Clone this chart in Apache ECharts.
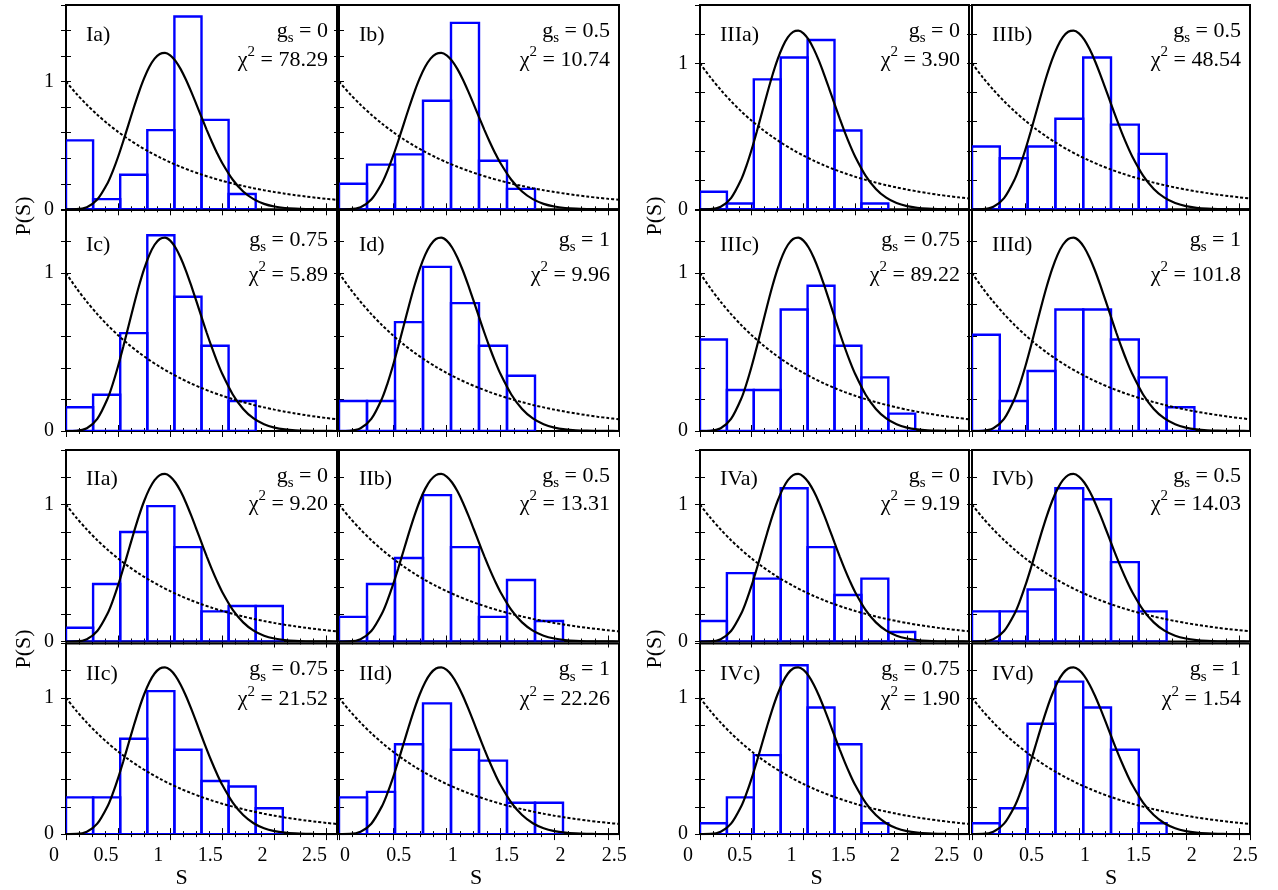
<!DOCTYPE html>
<html>
<head>
<meta charset="utf-8">
<title>Nearest-neighbour spacing distributions P(S)</title>
<script src="https://cdn.jsdelivr.net/npm/echarts@6/dist/echarts.min.js"></script>
<style>
  html, body { margin: 0; padding: 0; background: #ffffff; }
  #chart { width: 1278px; height: 890px; }
</style>
</head>
<body>
<div id="chart"></div>
<script>
// ---- data -------------------------------------------------------------
// Histogram bin width in units of the mean spacing S
const binWidth = 0.26;

// Panel labels, coupling values g_s and chi-square of each fit
const panelLabels = ['Ia)', 'Ib)', 'Ic)', 'Id)', 'IIa)', 'IIb)', 'IIc)', 'IId)',
                     'IIIa)', 'IIIb)', 'IIIc)', 'IIId)', 'IVa)', 'IVb)', 'IVc)', 'IVd)'];
const gsValues = ['0', '0.5', '0.75', '1', '0', '0.5', '0.75', '1',
                  '0', '0.5', '0.75', '1', '0', '0.5', '0.75', '1'];
const chiSquared = ['78.29', '10.74', '5.89', '9.96', '9.20', '13.31', '21.52', '22.26',
                    '3.90', '48.54', '89.22', '101.8', '9.19', '14.03', '1.90', '1.54'];

// Histogram heights P(S), one value per bin starting at S = 0
const histIa   = [0.54, 0.08, 0.27, 0.62, 1.51, 0.70, 0.12];
const histIb   = [0.20, 0.35, 0.43, 0.85, 1.46, 0.38, 0.16];
const histIc   = [0.15, 0.23, 0.62, 1.24, 0.85, 0.54, 0.19];
const histId   = [0.19, 0.19, 0.69, 1.04, 0.81, 0.54, 0.35];
const histIIa  = [0.10, 0.42, 0.80, 0.99, 0.69, 0.22, 0.26, 0.26];
const histIIb  = [0.18, 0.42, 0.61, 1.07, 0.69, 0.18, 0.45, 0.15];
const histIIc  = [0.27, 0.27, 0.70, 1.05, 0.62, 0.39, 0.35, 0.19];
const histIId  = [0.27, 0.31, 0.66, 0.96, 0.62, 0.54, 0.23, 0.23];
const histIIIa = [0.12, 0.04, 0.89, 1.04, 1.16, 0.54, 0.04];
const histIIIb = [0.43, 0.35, 0.43, 0.62, 1.04, 0.58, 0.38];
const histIIIc = [0.58, 0.26, 0.26, 0.77, 0.92, 0.54, 0.34, 0.11];
const histIIId = [0.61, 0.19, 0.38, 0.77, 0.77, 0.58, 0.34, 0.15];
const histIVa  = [0.15, 0.50, 0.46, 1.12, 0.69, 0.34, 0.46, 0.07];
const histIVb  = [0.22, 0.22, 0.38, 1.12, 1.04, 0.58, 0.22];
const histIVc  = [0.08, 0.27, 0.58, 1.24, 0.93, 0.66, 0.08];
const histIVd  = [0.08, 0.19, 0.81, 1.12, 0.93, 0.62, 0.08];
const histograms = [histIa, histIb, histIc, histId, histIIa, histIIb, histIIc, histIId,
                    histIIIa, histIIIb, histIIIc, histIIId, histIVa, histIVb, histIVc, histIVd];

// Reference curves, tabulated: GSE (Wigner) surmise and Poisson law
const gseS = [0, 0.1, 0.2, 0.3, 0.4, 0.45, 0.5, 0.55, 0.6, 0.65, 0.7, 0.75, 0.8, 0.85, 0.9,
              0.95, 1.0, 1.05, 1.1, 1.15, 1.2, 1.25, 1.3, 1.35, 1.4, 1.45, 1.5, 1.6, 1.7,
              1.8, 1.9, 2.0, 2.1, 2.2, 2.3, 2.4, 2.5, 2.6];
const gseP = [0, 0.0011, 0.0170, 0.0766, 0.2067, 0.3007, 0.4116, 0.5351, 0.6654, 0.7955,
              0.9185, 1.0272, 1.1158, 1.1798, 1.2163, 1.2248, 1.2059, 1.1624, 1.0977, 1.0166,
              0.9235, 0.8242, 0.7224, 0.6224, 0.5274, 0.4395, 0.3605, 0.2313, 0.1397, 0.0795,
              0.0427, 0.0217, 0.0104, 0.0047, 0.0020, 0.0008, 0.0003, 0.0001];
const poissonS = [0, 0.1, 0.2, 0.3, 0.4, 0.5, 0.6, 0.7, 0.8, 0.9, 1.0, 1.1, 1.2, 1.3,
                  1.4, 1.5, 1.6, 1.7, 1.8, 1.9, 2.0, 2.1, 2.2, 2.3, 2.4, 2.5, 2.6];
const poissonP = [1, 0.9048, 0.8187, 0.7408, 0.6703, 0.6065, 0.5488, 0.4966, 0.4493,
                  0.4066, 0.3679, 0.3329, 0.3012, 0.2725, 0.2466, 0.2231, 0.2019, 0.1827,
                  0.1653, 0.1496, 0.1353, 0.1225, 0.1108, 0.1003, 0.0907, 0.0821, 0.0743];

// Axis tick labels
const xTickValues = [0, 0.5, 1, 1.5, 2, 2.5];
const yTickLabels = [0, 1];

// ---- layout -----------------------------------------------------------
const colLeft   = [66, 339, 700, 972];
const colRight  = [337, 619, 969, 1250];
const rowTop    = [5, 210, 450, 643.5];
const rowBottom = [209.3, 431, 641.5, 837.5];
const labelOff  = [30, 35, 29, 31];
const gsOff     = [26, 30, 26, 26];
const chiOff    = [55, 65, 54, 56];
const sMax = 2.6;

const FONT = '"Liberation Serif", "DejaVu Serif", "Times New Roman", serif';
const BLUE = '#0000ff';

const grids = [], xAxes = [], yAxes = [], series = [], graphics = [];

const richText = {
  n:   { fontFamily: FONT, fontSize: 22, lineHeight: 30, color: '#000' },
  sub: { fontFamily: FONT, fontSize: 15, lineHeight: 15, verticalAlign: 'bottom', color: '#000' },
  sup: { fontFamily: FONT, fontSize: 15, lineHeight: 15, verticalAlign: 'top', color: '#000' }
};

function addText(x, y, text, align, rich, rotation) {
  graphics.push({
    type: 'text', x: x, y: y, rotation: rotation || 0, silent: true, z: 100,
    style: {
      text: text, fill: '#000', font: '22px ' + FONT,
      align: align, verticalAlign: 'middle',
      textAlign: align, textVerticalAlign: 'middle',
      rich: rich
    }
  });
}

function histogramItem(params, api) {
  const top = api.coord([api.value(0), api.value(2)]);
  const base = api.coord([api.value(1), 0]);
  return {
    type: 'rect',
    shape: { x: top[0], y: top[1], width: base[0] - top[0], height: base[1] - top[1] },
    style: { fill: 'none', stroke: BLUE, lineWidth: 2.4 }
  };
}

const tickStyle = { color: '#000', width: 1 };

panelLabels.forEach(function (label, i) {
  const fig = Math.floor(i / 4), sub = i % 4;
  const r = (fig % 2) * 2 + Math.floor(sub / 2);
  const c = (fig >= 2 ? 2 : 0) + (sub % 2);
  const yMax = (fig === 0 && sub < 2) ? 1.6 : 1.4;
  const bottomRow = r === 3;
  const leftCol = c % 2 === 0;

  grids.push({
    left: colLeft[c], top: rowTop[r],
    width: colRight[c] - colLeft[c], height: rowBottom[r] - rowTop[r],
    show: true, borderColor: '#000', borderWidth: 2, backgroundColor: 'transparent'
  });

  const namePad = [[0, 40, 0, 0], [0, 6, 0, 0], [0, 36, 0, 0], [0, 0, 0, 0]][c];
  xAxes.push({
    type: 'value', gridIndex: i, position: 'bottom', min: 0, max: sMax, interval: 0.5,
    axisLine: { show: false },
    axisTick: { show: true, inside: true, length: 6, lineStyle: tickStyle },
    minorTick: { show: true, splitNumber: 4, length: 3, lineStyle: tickStyle },
    splitLine: { show: false }, minorSplitLine: { show: false },
    axisLabel: {
      show: bottomRow, margin: 12, fontFamily: FONT, fontSize: 20, color: '#000',
      padding: leftCol ? [0, 24, 0, 0] : [0, 0, 0, 12],
      showMaxLabel: false,
      formatter: function (v) {
        return xTickValues.some(function (t) { return Math.abs(t - v) < 1e-6; }) ? String(v) : '';
      }
    },
    name: bottomRow ? 'S' : '', nameLocation: 'middle', nameGap: 30,
    nameTextStyle: { fontFamily: FONT, fontSize: 22, color: '#000', padding: namePad }
  });
  xAxes.push({
    type: 'value', gridIndex: i, position: 'top', min: 0, max: sMax, interval: 0.5,
    axisLine: { show: false },
    axisTick: { show: true, inside: true, length: 6, lineStyle: tickStyle },
    minorTick: { show: true, splitNumber: 4, length: 3, lineStyle: tickStyle },
    splitLine: { show: false }, axisLabel: { show: false }
  });
  yAxes.push({
    type: 'value', gridIndex: i, position: 'left', min: 0, max: yMax, interval: 0.2,
    axisLine: { show: false },
    axisTick: { show: true, inside: true, length: 5, lineStyle: tickStyle },
    splitLine: { show: false },
    axisLabel: {
      show: leftCol, margin: 12, fontFamily: FONT, fontSize: 20, color: '#000',
      formatter: function (v) {
        return yTickLabels.some(function (t) { return Math.abs(t - v) < 1e-6; }) ? String(Math.round(v)) : '';
      }
    }
  });
  yAxes.push({
    type: 'value', gridIndex: i, position: 'right', min: 0, max: yMax, interval: 0.2,
    axisLine: { show: false },
    axisTick: { show: true, inside: true, length: 5, lineStyle: tickStyle },
    splitLine: { show: false }, axisLabel: { show: false }
  });

  series.push({
    type: 'custom', xAxisIndex: 2 * i, yAxisIndex: 2 * i, z: 2, clip: true,
    renderItem: histogramItem, encode: { x: [0, 1], y: 2 },
    data: histograms[i].map(function (h, k) { return [k * binWidth, (k + 1) * binWidth, h]; })
  });
  series.push({
    type: 'line', xAxisIndex: 2 * i, yAxisIndex: 2 * i, z: 3, clip: true,
    symbol: 'none', smooth: 0.3, silent: true,
    lineStyle: { color: '#000', width: 2.2 },
    data: gseS.map(function (s, k) { return [s, gseP[k]]; })
  });
  series.push({
    type: 'line', xAxisIndex: 2 * i, yAxisIndex: 2 * i, z: 3, clip: true,
    symbol: 'none', smooth: 0.3, silent: true,
    lineStyle: { color: '#000', width: 2, type: [3, 2] },
    data: poissonS.map(function (s, k) { return [s, poissonP[k]]; })
  });

  // panel annotations
  addText(colLeft[c] + 20, rowTop[r] + labelOff[r], label, 'left');
  addText(colRight[c] - 9, rowTop[r] + gsOff[r],
          '{n|g}{sub|s}{n| = ' + gsValues[i] + '}', 'right', richText);
  addText(colRight[c] - 9, rowTop[r] + chiOff[r],
          '{n|\u03c7}{sup|2}{n| = ' + chiSquared[i] + '}', 'right', richText);
});

// vertical axis titles, one per pair of rows
[[24, 216], [24, 649], [655, 216], [655, 649]].forEach(function (p) {
  addText(p[0], p[1], 'P(S)', 'center', null, Math.PI / 2);
});

const chart = echarts.init(document.getElementById('chart'), null, { renderer: 'canvas' });
chart.setOption({
  animation: false,
  backgroundColor: '#ffffff',
  grid: grids,
  xAxis: xAxes,
  yAxis: yAxes,
  series: series,
  graphic: graphics
});
</script>
</body>
</html>
